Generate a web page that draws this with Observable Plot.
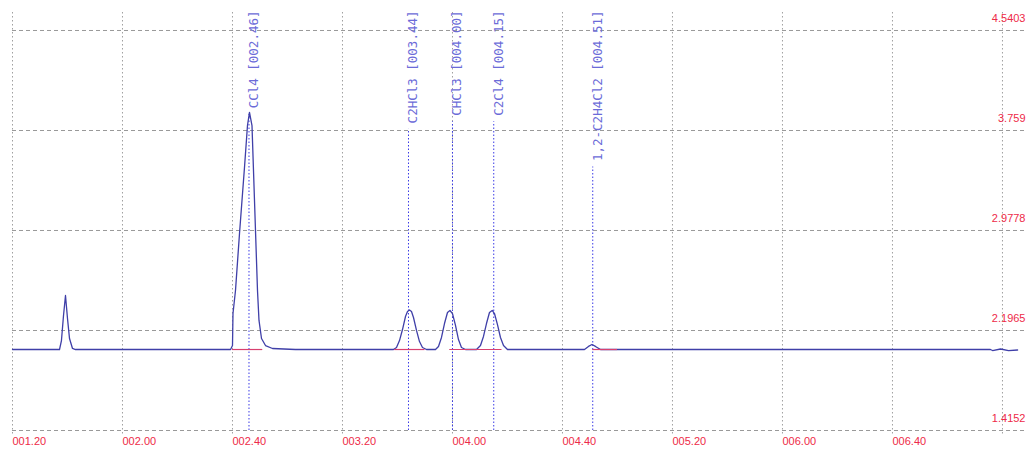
<!DOCTYPE html>
<html><head><meta charset="utf-8">
<script src="https://cdn.jsdelivr.net/npm/d3@7"></script>
<script src="https://cdn.jsdelivr.net/npm/@observablehq/plot@0.6"></script>
<style>html,body{margin:0;padding:0;background:#fff;}</style>
</head><body><div id="chart"></div>
<script>
// Retention time (seconds) and detector signal
const times = [
  80, 97.1, 97.8, 98.55, 99.27, 100.0, 100.73, 101.82, 102.9,
  159.3, 160.0, 160.18, 161.09, 162.55, 164.36, 165.45, 166.18, 167.09, 168.0, 169.09, 169.64, 170.55, 172.0, 174.55, 182.9,
  218.55, 219.64, 220.73, 221.82, 222.91, 223.64, 224.36, 225.09, 225.82, 226.91, 228.0, 229.09, 230.55,
  233.82, 234.91, 236.0, 237.09, 238.18, 239.09, 240.0, 241.09, 242.18, 243.27, 244.73,
  248.73, 250.18, 251.27, 252.36, 253.45, 254.44, 255.27, 256.36, 257.45, 258.55, 260.0,
  288.0, 289.45, 290.73, 292.0, 293.82,
  435.6, 436.4, 439.3, 442.2, 445.5
];
const signal = [
  2.048, 2.048, 2.118, 2.314, 2.470, 2.290, 2.134, 2.056, 2.048,
  2.048, 2.079, 2.329, 2.509, 2.954, 3.470, 3.798, 3.900, 3.798, 3.212, 2.509, 2.275, 2.134, 2.079, 2.056, 2.048,
  2.048, 2.064, 2.118, 2.204, 2.306, 2.345, 2.357, 2.345, 2.298, 2.197, 2.110, 2.064, 2.048,
  2.048, 2.072, 2.142, 2.251, 2.337, 2.353, 2.329, 2.236, 2.126, 2.064, 2.048,
  2.048, 2.079, 2.150, 2.251, 2.337, 2.353, 2.329, 2.243, 2.142, 2.079, 2.048,
  2.048, 2.072, 2.087, 2.072, 2.048,
  2.048, 2.040, 2.052, 2.040, 2.044
];
// Identified peaks
const peakNames = ["CCl4", "C2HCl3", "CHCl3", "C2Cl4", "1,2-C2H4Cl2"];
const peakTimes = [166, 224, 240, 255, 291];
// Integration baselines (start / end, seconds)
const intStart = [160, 219, 239, 291];
const intEnd = [171, 230, 258, 300];
// Axis ticks
const xTicks = [80, 120, 160, 200, 240, 280, 320, 360, 400, 440];
const xTickLabels = ["001.20", "002.00", "002.40", "003.20", "004.00", "004.40", "005.20", "006.00", "006.40"];
const yTicks = [1.4152, 2.1965, 2.9778, 3.759, 4.5403];
const yTickLabels = ["1.4152", "2.1965", "2.9778", "3.759", "4.5403"];

const W = 1027, H = 449, MT = 12, MB = 13, ML = 12, MR = 0;
const xDomain = [80, 449.1];
const yDomain = [1.3684, 4.6809];
const fmt = s => `${String(Math.floor(s / 60)).padStart(3, "0")}.${String(s % 60).padStart(2, "0")}`;

const curve = times.map((t, i) => ({t, v: signal[i]}));
const baseline = signal[0];
const intervals = intStart.map((s, i) => ({x1: s, x2: intEnd[i]}));
const FS = 12.5, CW = FS * 0.602;
const yS = Plot.scale({y: {domain: yDomain, range: [H - MB, MT]}});
const peaks = peakNames.map((n, i) => {
  const label = `${n} [${fmt(peakTimes[i])}]`;
  return {t: peakTimes[i], label, top: yS.invert(MT - 2 + label.length * CW + 6)};
});

const red = "#ee2a48";
const chart = Plot.plot({
  width: W, height: H,
  marginTop: MT, marginBottom: MB, marginLeft: ML, marginRight: MR,
  x: {domain: xDomain, axis: null},
  y: {domain: yDomain, range: [H - MB, MT], axis: null},
  style: {background: "white", fontFamily: "Liberation Sans, Arial, sans-serif"},
  marks: [
    Plot.ruleX(xTicks, {stroke: "#888", strokeDasharray: "1.5,2.5", strokeOpacity: 0.8}),
    Plot.ruleY(yTicks, {stroke: "#999", strokeDasharray: "4,3"}),
    Plot.ruleX(peaks, {x: "t", y1: yTicks[0], y2: "top", stroke: "#3a3ae6", strokeDasharray: "1.5,2"}),
    Plot.line(curve, {x: "t", y: "v", stroke: "#3f3fa8", strokeWidth: 1.3}),
    Plot.ruleY(intervals, {y: baseline, x1: "x1", x2: "x2", stroke: "#d84070", strokeWidth: 1.2}),
    Plot.text(peaks, {x: "t", text: "label", frameAnchor: "top", rotate: -90, textAnchor: "end", lineAnchor: "middle",
      dx: 5, dy: -2, fill: "#6b6bd8", fontFamily: "DejaVu Sans Mono", fontSize: FS}),
    Plot.text(xTickLabels, {x: (d, i) => xTicks[i], text: d => d, frameAnchor: "bottom", dy: 8, textAnchor: "start",
      fill: red, fontSize: 11}),
    Plot.text(yTickLabels, {y: (d, i) => yTicks[i], text: d => d, frameAnchor: "right", dx: -2, dy: -12,
      textAnchor: "end", fill: red, fontSize: 11})
  ]
});
document.getElementById("chart").appendChild(chart);
</script>
</body></html>
